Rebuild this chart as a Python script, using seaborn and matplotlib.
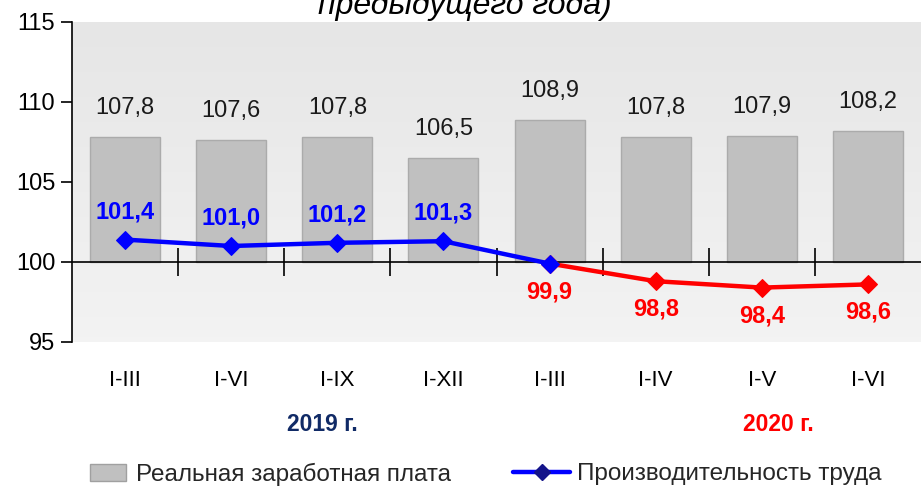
import numpy as np
import pandas as pd
import matplotlib
matplotlib.use("Agg")
import matplotlib.pyplot as plt
import matplotlib.transforms as mtransforms
from matplotlib.colors import LinearSegmentedColormap
from matplotlib.lines import Line2D
from matplotlib.patches import Patch
import seaborn as sns

# data
periods = ['I-III', 'I-VI', 'I-IX', 'I-XII', 'I-III', 'I-IV', 'I-V', 'I-VI']
wage = [107.8, 107.6, 107.8, 106.5, 108.9, 107.8, 107.9, 108.2]
productivity = [101.4, 101.0, 101.2, 101.3, 99.9, 98.8, 98.4, 98.6]
years = ['2019 г.', '2020 г.']
n_2019 = 4

sns.set_theme(style='white')
plt.rcParams['font.family'] = ['Liberation Sans', 'DejaVu Sans']

fig = plt.figure(figsize=(9.21, 4.88), dpi=100)
ax = fig.add_axes([72 / 921, 1 - 342 / 488, (921 - 72) / 921, 320 / 488])

# soft vertical gradient behind the plot
bg = LinearSegmentedColormap.from_list('bg', ['#f3f3f3', '#e6e6e6'])
ax.imshow(np.linspace(0, 1, 64).reshape(-1, 1), cmap=bg, aspect='auto',
          extent=[-0.5, len(periods) - 0.5, 95, 115], origin='lower', zorder=0)

# bars start from the 100 line
df = pd.DataFrame({'pos': range(len(wage)), 'wage': wage})
sns.barplot(data=df, x='pos', y='wage', color='#c0c0c0', width=0.66,
            edgecolor='#ababab', linewidth=1, saturation=1, ax=ax, zorder=2)
for p, v in zip(ax.patches, wage):
    p.set_y(100)
    p.set_height(v - 100)

idx = np.arange(len(productivity))
# red part (2020) first, then blue on top
sns.lineplot(x=idx[n_2019:], y=productivity[n_2019:], color='#ff0000', marker='D',
             markersize=9, markeredgecolor='#ff0000', linewidth=3.2, ax=ax, zorder=4)
sns.lineplot(x=idx[:n_2019 + 1], y=productivity[:n_2019 + 1], color='#0000ff', marker='D',
             markersize=9, markeredgecolor='#0000ff', linewidth=3.2, ax=ax, zorder=5)

# value labels
for i, v in enumerate(wage):
    ax.annotate(f'{v:.1f}'.replace('.', ','), (i, v), xytext=(0, 29),
                textcoords='offset pixels', ha='center', va='center',
                fontsize=17, color='#1a1a1a')
for i, v in enumerate(productivity):
    if i < n_2019:
        ax.annotate(f'{v:.1f}'.replace('.', ','), (i, v), xytext=(0, 28),
                    textcoords='offset pixels', ha='center', va='center',
                    fontsize=17, fontweight='bold', color='#0000ff')
    else:
        ax.annotate(f'{v:.1f}'.replace('.', ','), (i, v), xytext=(0, -28),
                    textcoords='offset pixels', ha='center', va='center',
                    fontsize=17, fontweight='bold', color='#ff0000')

ax.set_ylim(95, 115)
ax.set_xlim(-0.5, len(periods) - 0.5)
ax.set_yticks(np.arange(95, 116, 5))
ax.set_xticks(np.arange(0.5, len(periods) - 1, 1))
ax.set_xticklabels([])
ax.set_xlabel('')
ax.set_ylabel('')

for s in ['top', 'right']:
    ax.spines[s].set_visible(False)
ax.spines['bottom'].set_position(('data', 100))
ax.spines['bottom'].set_color('black')
ax.spines['left'].set_color('black')
ax.spines['bottom'].set_linewidth(1.2)
ax.spines['left'].set_linewidth(1.2)
ax.spines['bottom'].set_zorder(3)
ax.tick_params(axis='y', left=True, direction='out', length=8, width=1.2,
               labelsize=17, colors='black', pad=4)
ax.tick_params(axis='x', bottom=True, direction='inout', length=20, width=1.2,
               colors='black')

# category labels under the plot
trans = mtransforms.blended_transform_factory(ax.transData, ax.transAxes)
for i, lab in enumerate(periods):
    ax.text(i, -0.119, lab, transform=trans, ha='center', va='center',
            fontsize=16, color='black')
ax.text(1.86, -0.258, years[0], transform=trans, ha='center', va='center',
        fontsize=16.5, fontweight='bold', color='#102a66')
ax.text(6.16, -0.258, years[1], transform=trans, ha='center', va='center',
        fontsize=16.5, fontweight='bold', color='#ff0000')

# title, cut at the top edge as in the source
fig.text(465 / 921, 1 - 14 / 488, 'предыдущего года)', ha='center', va='baseline',
         fontsize=23, style='italic', color='black')

leg1 = fig.legend([Patch(facecolor='#c0c0c0', edgecolor='#a0a0a0')],
                  ['Реальная заработная плата'], loc='center left',
                  bbox_to_anchor=(90 / 921, 1 - 474 / 488), frameon=False,
                  fontsize=17.5, handlelength=1.5, handletextpad=0.4,
                  borderpad=0, borderaxespad=0)
fig.legend([Line2D([], [], color='#0000ff', linewidth=3.2, marker='D', markersize=8,
                   markerfacecolor='#14148a', markeredgecolor='#14148a')],
           ['Производительность труда'], loc='center left',
           bbox_to_anchor=(513 / 921, 1 - 474 / 488), frameon=False,
           fontsize=17.5, handlelength=2.35, handletextpad=0.3,
           borderpad=0, borderaxespad=0)

fig.savefig('out.png', dpi=100)
